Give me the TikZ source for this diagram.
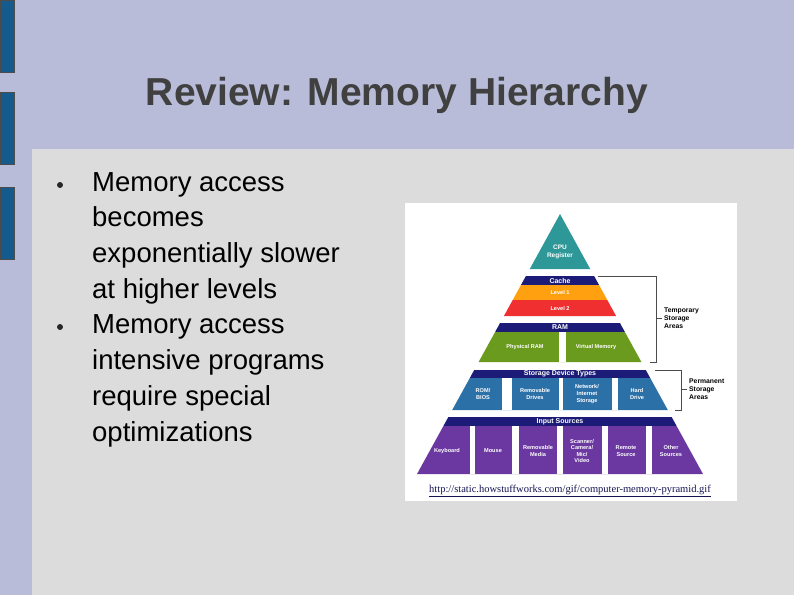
\documentclass[tikz,border=0pt]{standalone}
\usepackage{fontspec}
\setmainfont{Liberation Sans}
\newfontfamily\urlfont{Liberation Serif}
\definecolor{bg}{HTML}{B8BCD8}
\definecolor{panel}{HTML}{DCDCDC}
\definecolor{barblue}{HTML}{145A8C}
\definecolor{navy}{HTML}{1C1C78}
\definecolor{teal}{HTML}{2E9898}
\definecolor{orng}{HTML}{FFA010}
\definecolor{redd}{HTML}{F03030}
\definecolor{grn}{HTML}{6A9A1E}
\definecolor{blu}{HTML}{2C70A8}
\definecolor{purp}{HTML}{6A38A0}
\newcommand{\trap}[3]{\fill[#3] ({560-0.55*(#1-214)},#1) -- ({560+0.55*(#1-214)},#1) -- ({560+0.55*(#2-214)},#2) -- ({560-0.55*(#2-214)},#2) -- cycle;}
\tikzset{lab/.style={text=white,font=\fontsize{5.6}{6.6}\selectfont\bfseries,align=center,inner sep=0pt},
barlab/.style={text=white,font=\fontsize{7}{7}\selectfont\bfseries,inner sep=0pt},
side/.style={text=black,font=\fontsize{6.8}{8}\selectfont\bfseries,align=left,inner sep=0pt,anchor=west},
body/.style={anchor=north west,align=left,inner sep=0pt,font=\fontsize{27.5}{35.7}\selectfont}}
\begin{document}
\begin{tikzpicture}[x=1pt,y=-1pt]
\useasboundingbox (0,0) rectangle (794,595);
\fill[bg] (0,0) rectangle (794,595);
\fill[panel] (32,149) rectangle (794,595);
\foreach \a/\b in {0/72,92/164,187/259} \fill[barblue,draw=black!70,line width=0.5pt] (0,\a) rectangle (14,\b);
\node[text=black!75,font=\fontsize{39}{46}\selectfont\bfseries] (title) at (397,95) {Review: Memory Hierarchy};
\node[body] (t1) at (92,172) {Memory access\\becomes\\exponentially slower\\at higher levels\\Memory access\\intensive programs\\require special\\optimizations};
\fill[black!85] (60,185) circle (3);
\fill[black!85] (60,327) circle (3);
% image
\fill[white] (405,203) rectangle (737,501);
\fill[teal] (560,214) -- ({560+0.55*55},269) -- ({560-0.55*55},269) -- cycle;
\node[lab,font=\fontsize{6.5}{8}\selectfont\bfseries] (cpu) at (560,252) {CPU\\Register};
\trap{276}{285}{navy} \trap{285}{300}{orng} \trap{300}{316}{redd}
\node[barlab] (cache) at (560,280.5) {Cache};
\node[lab] (l1) at (560,292.5) {Level 1};
\node[lab] (l2) at (560,308) {Level 2};
\trap{323}{332}{navy} \trap{332}{362}{grn}
\fill[white] (559,332) rectangle (566,362);
\node[barlab] (ram) at (560,327.5) {RAM};
\node[lab] (pr) at (525,347) {Physical RAM};
\node[lab] (vm) at (596,347) {Virtual Memory};
\trap{370}{378}{navy} \trap{378}{410}{blu}
\foreach \a/\b in {502/512,559/563,612/618} \fill[white] (\a,378) rectangle (\b,410);
\node[barlab] (sdt) at (560,374) {Storage Device Types};
\node[lab] (rom) at (483,394) {ROM/\\BIOS};
\node[lab] (rem) at (535,394) {Removable\\Drives};
\node[lab] (net) at (587,394) {Network/\\Internet\\Storage};
\node[lab] (hd) at (637,394) {Hard\\Drive};
\trap{417}{426}{navy} \trap{426}{474}{purp}
\foreach \a/\b in {470/475,512/519,557/563,602/608,646/652} \fill[white] (\a,426) rectangle (\b,474);
\node[barlab] (in) at (560,421.5) {Input Sources};
\node[lab] (kb) at (447,451) {Keyboard};
\node[lab] (ms) at (493,451) {Mouse};
\node[lab] (rm) at (538,451) {Removable\\Media};
\node[lab] (sc) at (582,451) {Scanner/\\Camera/\\Mic/\\Video};
\node[lab] (rs) at (626,451) {Remote\\Source};
\node[lab] (os) at (671,451) {Other\\Sources};
\node[inner sep=0pt,font=\urlfont\fontsize{10.5}{12}\selectfont,text=navy!70!black] (url) at (570,491) {\underline{http://static.howstuffworks.com/gif/computer-memory-pyramid.gif}};
% brackets
\draw[black!70,line width=0.6pt] (598,276) -- (656,276) -- (656,362) -- (650,362);
\draw[black!70,line width=0.6pt] (656,318) -- (662,318);
\node[side] (tmp) at (664,318) {Temporary\\Storage\\Areas};
\draw[black!70,line width=0.6pt] (655,370) -- (681,370) -- (681,410) -- (675,410);
\draw[black!70,line width=0.6pt] (681,389) -- (687,389);
\node[side] (perm) at (689,389) {Permanent\\Storage\\Areas};
\end{tikzpicture}
\end{document}
